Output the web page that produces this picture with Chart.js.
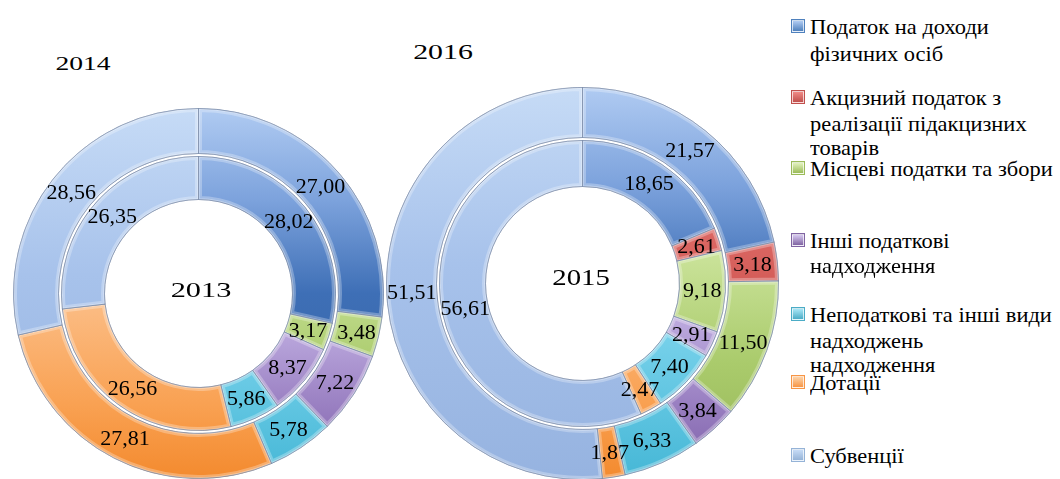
<!DOCTYPE html>
<html><head><meta charset="utf-8">
<script src="https://cdn.jsdelivr.net/npm/chart.js@4.4.0/dist/chart.umd.min.js"></script>
<style>
html,body{margin:0;padding:0;background:#fff;}
#wrap{position:relative;width:1060px;height:479px;overflow:hidden;font-family:"Liberation Serif","Times New Roman",serif;color:#000;}
#wrap canvas{position:absolute;}
.t{position:absolute;white-space:nowrap;}
.mk{position:absolute;box-sizing:border-box;}
</style></head><body>
<div id="wrap"><canvas id="c1"></canvas><canvas id="c2"></canvas></div>
<script>
// ---------- DATA ----------
const categories = [
  'Податок на доходи фізичних осіб',
  'Акцизний податок з реалізації підакцизних товарів',
  'Місцеві податки та збори',
  'Інші податкові надходження',
  'Неподаткові та інші види надходжень',
  'Дотації',
  'Субвенції'
];
const legendLabels = [
  ['Податок на доходи', 'фізичних осіб'],
  ['Акцизний податок з', 'реалізації підакцизних', 'товарів'],
  ['Місцеві податки та збори'],
  ['Інші податкові', 'надходження'],
  ['Неподаткові та інші види', 'надходжень', 'надходження'],
  ['Дотації'],
  ['Субвенції']
];
const values2013 = [28.02, 0, 3.17, 8.37, 5.86, 26.56, 26.35];
const values2014 = [27.00, 0, 3.48, 7.22, 5.78, 27.81, 28.56];
const values2015 = [18.65, 2.61, 9.18, 2.91, 7.40, 2.47, 56.61];
const values2016 = [21.57, 3.18, 11.50, 3.84, 6.33, 1.87, 51.51];
const yearLabels = ['2014', '2013', '2016', '2015'];

// ---------- STYLE ----------
const baseColors = ['#4F81BD', '#C0504D', '#9BBB59', '#8064A2', '#4BACC6', '#F79646', '#95B3D7'];
const gradStops = [
  [[0, '#B0CBF2'], [0.25, '#7CA2DC'], [0.5, '#3E6FB6'], [1, '#345F9E']],
  [[0, '#F08A86'], [0.5, '#D45C58'], [1, '#B8443F']],
  [[0, '#E2F2BC'], [0.35, '#D3E9A6'], [0.7, '#AACB6C'], [1, '#94B454']],
  [[0, '#D6C8F0'], [0.55, '#C3B2E4'], [0.8, '#9A80C2'], [1, '#7B5EA6']],
  [[0, '#A8E6F6'], [0.6, '#7BD3EC'], [1, '#45B7D6']],
  [[0, '#FDD3A8'], [0.55, '#FBBA80'], [0.8, '#F9A152'], [1, '#F38A2E']],
  [[0, '#C6DBF6'], [0.45, '#A7C2EB'], [1, '#96B3E0']]
];
const fmt = v => v.toFixed(2).replace('.', ',');

const gradCache = new WeakMap();
function segColor(c) {
  const chart = c.chart;
  const area = chart.chartArea;
  if (!area) return baseColors[c.dataIndex];
  let arr = gradCache.get(chart);
  if (!arr) {
    arr = gradStops.map(stops => {
      const g = chart.ctx.createLinearGradient(0, area.top, 0, area.bottom);
      stops.forEach(s => g.addColorStop(s[0], s[1]));
      return g;
    });
    gradCache.set(chart, arr);
  }
  return arr[c.dataIndex];
}

// soft bevel: light inner band + darker bottom band on every segment
const bevel = {
  id: 'bevel',
  afterDatasetsDraw(chart) {
    const ctx = chart.ctx;
    chart.data.datasets.forEach((ds, i) => {
      if (ds.isGap) return;
      chart.getDatasetMeta(i).data.forEach((arc, j) => {
        if (!ds.data[j]) return;
        const p = arc.getProps(['x', 'y', 'startAngle', 'endAngle', 'innerRadius', 'outerRadius']);
        ctx.save();
        ctx.beginPath();
        ctx.arc(p.x, p.y, p.outerRadius, p.startAngle, p.endAngle);
        ctx.arc(p.x, p.y, p.innerRadius, p.endAngle, p.startAngle, true);
        ctx.closePath();
        ctx.clip();
        ctx.lineJoin = 'round';
        ctx.lineWidth = 7;
        ctx.strokeStyle = 'rgba(255,255,255,0.28)';
        ctx.stroke();
        ctx.lineWidth = 2.5;
        ctx.strokeStyle = 'rgba(255,255,255,0.35)';
        ctx.stroke();
        ctx.restore();
        ctx.save();
        ctx.beginPath();
        ctx.arc(p.x, p.y, p.outerRadius, p.startAngle, p.endAngle);
        ctx.arc(p.x, p.y, p.innerRadius, p.endAngle, p.startAngle, true);
        ctx.closePath();
        ctx.lineWidth = 1;
        ctx.strokeStyle = 'rgba(95,115,150,0.45)';
        ctx.stroke();
        ctx.restore();
      });
    });
  }
};

const valueLabels = {
  id: 'valueLabels',
  afterDatasetsDraw(chart) {
    const ctx = chart.ctx;
    ctx.save();
    ctx.font = '22px "Liberation Serif", "Times New Roman", serif';
    ctx.fillStyle = '#000';
    ctx.textAlign = 'center';
    ctx.textBaseline = 'middle';
    chart.data.datasets.forEach((ds, i) => {
      if (ds.isGap) return;
      chart.getDatasetMeta(i).data.forEach((arc, j) => {
        const v = ds.data[j];
        if (!v) return;
        const p = arc.tooltipPosition();
        ctx.fillText(fmt(v), p.x, p.y + 1);
      });
    });
    ctx.restore();
  }
};

function ringDataset(vals, weight) {
  return {
    data: vals,
    weight: weight,
    backgroundColor: segColor,
    borderColor: 'rgba(95,115,150,0.5)',
    borderWidth: c => (vals[c.dataIndex] ? 1 : 0),
    hoverOffset: 0
  };
}

function makeDonut(id, cx, cy, R, hole, wOuter, wGap, wInner, outerVals, innerVals) {
  const cv = document.getElementById(id);
  const size = 2 * R + 1;
  cv.width = size; cv.height = size;
  cv.style.width = size + 'px'; cv.style.height = size + 'px';
  cv.style.left = (cx - R) + 'px'; cv.style.top = (cy - R) + 'px';
  return new Chart(cv, {
    type: 'doughnut',
    data: {
      labels: categories,
      datasets: [
        ringDataset(outerVals, wOuter),
        { data: [1], weight: wGap, backgroundColor: 'rgba(0,0,0,0)', borderWidth: 0, isGap: true },
        ringDataset(innerVals, wInner)
      ]
    },
    options: {
      responsive: false,
      animation: false,
      cutout: hole,
      layout: { padding: 0 },
      events: [],
      plugins: { legend: { display: false }, tooltip: { enabled: false } }
    },
    plugins: [bevel, valueLabels]
  });
}

makeDonut('c1', 198, 293, 185, 94, 45, 3, 43, values2014, values2013);
makeDonut('c2', 582, 283, 196, 97, 50, 3, 46, values2016, values2015);

// ---------- TEXT (titles, legend) ----------
const wrap = document.getElementById('wrap');
function addText(str, x, baseline, fs, align, sx) {
  const d = document.createElement('div');
  d.className = 't';
  d.textContent = str;
  d.style.fontSize = fs + 'px';
  d.style.lineHeight = fs + 'px';
  d.style.top = (baseline - 0.8375 * fs) + 'px';
  d.style.left = x + 'px';
  const tx = align === 'center' ? 'translateX(-50%) ' : '';
  d.style.transform = tx + 'scaleX(' + (sx || 1) + ')';
  d.style.transformOrigin = align === 'center' ? '50% 50%' : '0 50%';
  wrap.appendChild(d);
}
// year titles: outer-left, centre-left, outer-right, centre-right
const yearPos = [[83, 70, 19, 1.45], [201, 297, 22, 1.38], [443, 60, 21, 1.42], [581, 285, 23, 1.25]];
yearLabels.forEach((y, i) => addText(y, yearPos[i][0], yearPos[i][1], yearPos[i][2], 'center', yearPos[i][3]));

const legendBaselines = [[34, 61], [105, 131, 155], [176], [248, 273], [322, 348, 372], [390], [463]];
legendLabels.forEach((lines, i) => {
  lines.forEach((ln, k) => addText(ln, 810, legendBaselines[i][k], 22, 'left', 1.02));
  const m = document.createElement('div');
  m.className = 'mk';
  const b0 = legendBaselines[i][0];
  m.style.left = '792px';
  m.style.top = (b0 - 14) + 'px';
  m.style.width = '12px';
  m.style.height = '12px';
  m.style.background = 'linear-gradient(180deg,' + gradStops[i][0][1] + ',' + baseColors[i] + ')';
  m.style.border = '1px solid rgba(255,255,255,0.7)';
  m.style.boxShadow = '0 0 0 1px ' + baseColors[i];
  wrap.appendChild(m);
});
</script>
</body></html>
